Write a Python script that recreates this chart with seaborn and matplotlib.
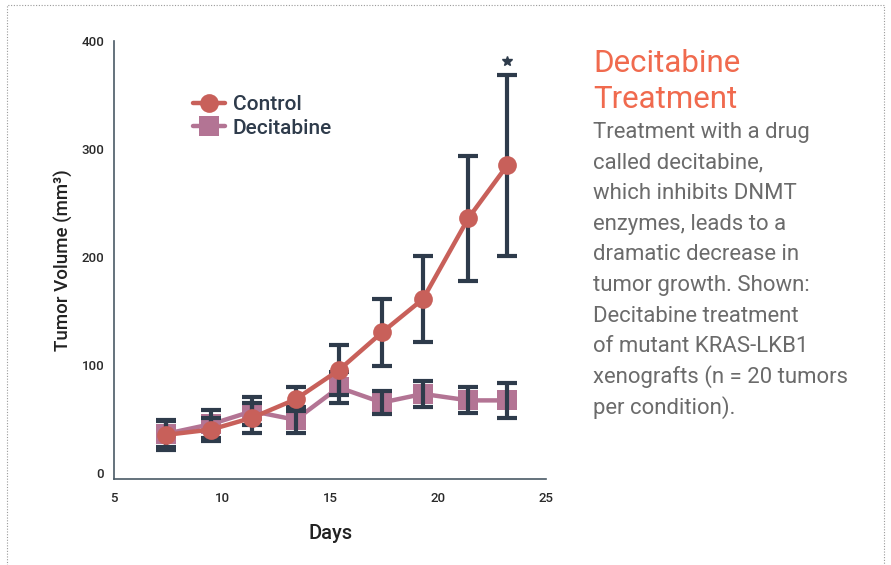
import numpy as np
import pandas as pd
import matplotlib
matplotlib.use("Agg")
import matplotlib.pyplot as plt
from matplotlib.patches import Rectangle
import seaborn as sns

# Valores
DAYS = [7.4, 9.5, 11.4, 13.4, 15.4, 17.4, 19.3, 21.4, 23.2]
CONTROL_MEAN = [35, 40, 51, 68, 95, 130, 161, 236, 285]
CONTROL_ERR = [14, 11, 14, 11, 23, 31, 40, 58, 84]
DECITABINE_MEAN = [36, 45, 57, 49, 79, 65, 73, 67, 67]
DECITABINE_ERR = [12, 13, 13, 12, 14, 11, 12, 12, 16]
STAR_DAY = 23.2
STAR_Y = 382

GROUPS = ["Control", "Decitabine"]
COLORS = {"Control": "#C8605A", "Decitabine": "#B37494"}
ERR_COLOR = "#2E3B4B"
AXIS_COLOR = "#4A5A66"

TITLE_LINES = ["Decitabine", "Treatment"]
BODY_LINES = ["Treatment with a drug", "called decitabine,", "which inhibits DNMT",
              "enzymes, leads to a", "dramatic decrease in", "tumor growth. Shown:",
              "Decitabine treatment", "of mutant KRAS-LKB1",
              "xenografts (n = 20 tumors", "per condition)."]

df = pd.DataFrame({
    "day": DAYS * 2,
    "volume": CONTROL_MEAN + DECITABINE_MEAN,
    "err": CONTROL_ERR + DECITABINE_ERR,
    "group": ["Control"] * len(DAYS) + ["Decitabine"] * len(DAYS),
})

sns.set_style("white")
plt.rcParams["font.family"] = ["Roboto", "DejaVu Sans"]

W, H = 891, 565
fig = plt.figure(figsize=(W / 100, H / 100), dpi=100)
ax = fig.add_axes([0.128, 0.152, 0.485, 0.775])

dec = df[df["group"] == "Decitabine"]
ctl = df[df["group"] == "Control"]

# decitabine por baixo, barras de erro no meio, controle por cima
sns.lineplot(data=dec, x="day", y="volume", color=COLORS["Decitabine"], lw=3.2,
             marker="s", markersize=14, markeredgewidth=0, label="Decitabine",
             ax=ax, zorder=2)
for sub in (dec, ctl):
    ax.errorbar(sub["day"], sub["volume"], yerr=sub["err"], fmt="none",
                ecolor=ERR_COLOR, elinewidth=3, capsize=7.5, capthick=3, zorder=3)
sns.lineplot(data=ctl, x="day", y="volume", color=COLORS["Control"], lw=3.2,
             marker="o", markersize=13.5, markeredgewidth=0, label="Control",
             ax=ax, zorder=4)

ax.plot([STAR_DAY], [STAR_Y], marker="*", color=ERR_COLOR, markersize=7, ls="none")

ax.set_xlim(5, 25)
ax.set_ylim(-6, 400)
ax.set_xticks([5, 10, 15, 20, 25])
ax.set_yticks([0, 100, 200, 300, 400])
ax.tick_params(axis="both", length=0, labelsize=9.5, colors="#2a2a2a")
ax.tick_params(axis="x", pad=9)
ax.tick_params(axis="y", pad=7)
for lab in ax.get_xticklabels() + ax.get_yticklabels():
    lab.set_fontweight("medium")
for s in ["top", "right"]:
    ax.spines[s].set_visible(False)
for s in ["left", "bottom"]:
    ax.spines[s].set_color(AXIS_COLOR)
    ax.spines[s].set_linewidth(1.2)

ax.set_xlabel("Days", fontsize=14.5, color="#222222", labelpad=14, fontweight="medium")
ax.set_ylabel("Tumor Volume (mm³)", fontsize=13.5, color="#222222", labelpad=6,
              fontweight="medium")

handles, labels = ax.get_legend_handles_labels()
order = [labels.index(g) for g in GROUPS]
leg = ax.legend([handles[i] for i in order], [labels[i] for i in order],
                loc="upper left", bbox_to_anchor=(0.14, 0.919), frameon=False,
                prop={"size": 15, "weight": "medium"}, handlelength=1.5,
                handletextpad=0.4, labelspacing=0.2, labelcolor="#2E3B4B")

# texto lateral, uma linha de cada vez para manter o espaçamento uniforme
x0 = 593 / W
for i, line in enumerate(TITLE_LINES):
    fig.text(x0, 1 - (72 + 36 * i) / H, line, fontsize=22.5, color="#F06A4E",
             va="baseline", ha="left")
for i, line in enumerate(BODY_LINES):
    fig.text(x0, 1 - (138 + 30.6 * i) / H, line, fontsize=15.9, color="#6B6B6B",
             va="baseline", ha="left")

fig.patches.append(Rectangle((0.008, -0.02), 0.984, 1.011, transform=fig.transFigure,
                             fill=False, ec="#9a9a9a", lw=0.8, ls=(0, (1, 1.5))))

fig.savefig("out.png", dpi=100)
